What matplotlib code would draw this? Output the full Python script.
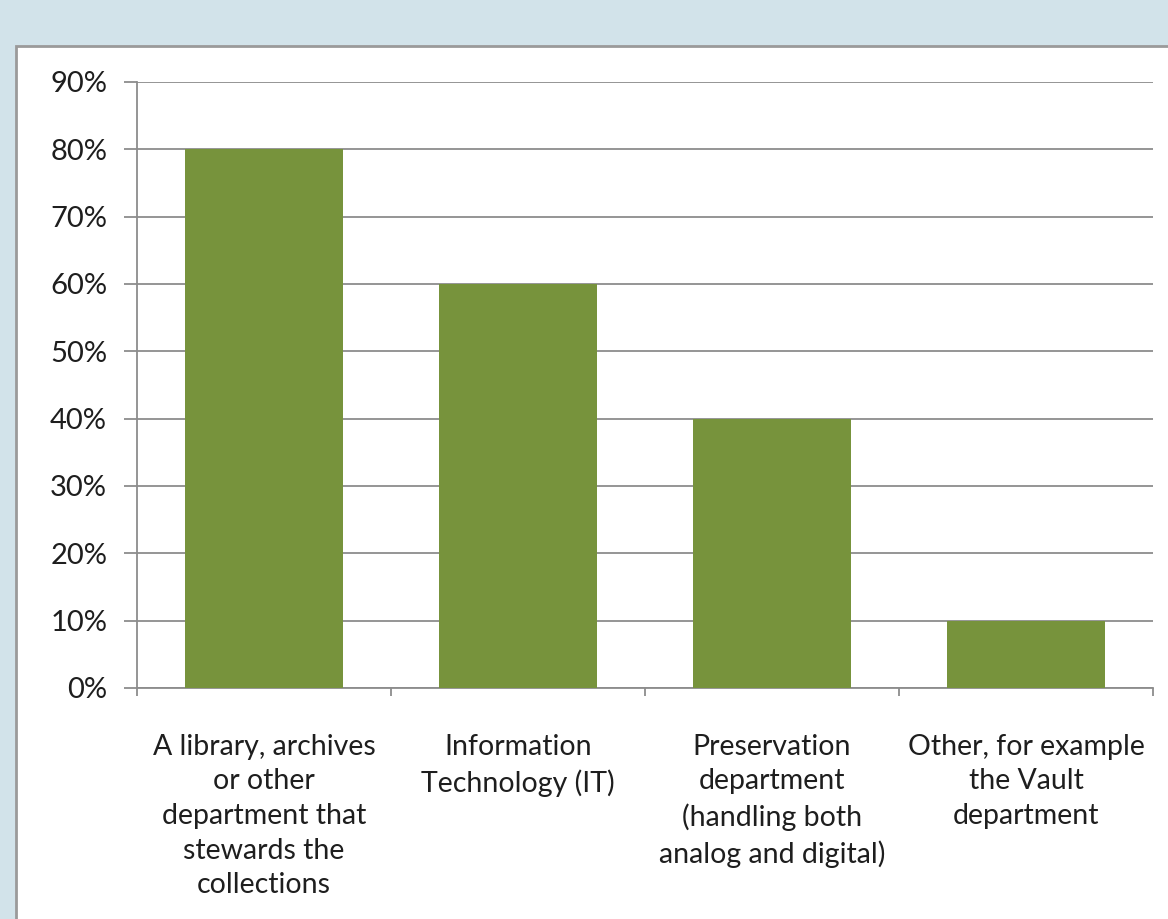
import matplotlib.pyplot as plt
from matplotlib.patches import Rectangle
from matplotlib.ticker import FixedLocator, PercentFormatter

# data
categories = [
    "A library, archives\nor other\ndepartment that\nstewards the\ncollections",
    "Information\nTechnology (IT)",
    "Preservation\ndepartment\n(handling both\nanalog and digital)",
    "Other, for example\nthe Vault\ndepartment",
]
values = [80, 60, 40, 10]
y_ticks = [0, 10, 20, 30, 40, 50, 60, 70, 80, 90]

plt.rcParams['font.family'] = ['Lato', 'DejaVu Sans']

fig = plt.figure(figsize=(11.68, 9.19), dpi=100)
fig.patch.set_facecolor('#d2e3ea')

# white panel behind the chart
panel = Rectangle((16 / 1168, -0.01), 1.0, 1 - 46 / 919 + 0.01, transform=fig.transFigure,
                  facecolor='white', edgecolor='#9a9a9a', linewidth=2, zorder=-10)
fig.patches.append(panel)

ax = fig.add_axes([137 / 1168, 1 - 688 / 919, (1153 - 137) / 1168, (688 - 82) / 919])
ax.set_zorder(5)
ax.set_facecolor('white')

x = list(range(len(values)))
ax.bar(x, values, width=0.625, color='#77933c', zorder=3)

ax.set_xlim(-0.5, len(values) - 0.5)
ax.set_ylim(0, 90)
ax.set_yticks(y_ticks)
ax.yaxis.set_major_formatter(PercentFormatter(decimals=0))
ax.yaxis.grid(True, color='#8c8c8c', linewidth=1.3, zorder=0)

ax.set_xticks(x)
ax.set_xticklabels(categories, fontsize=20.5, color='#1e1e1e', linespacing=1.41)
ax.tick_params(axis='x', length=0, pad=33)
ax.xaxis.set_minor_locator(FixedLocator([i - 0.5 for i in range(len(values) + 1)]))
ax.tick_params(axis='x', which='minor', length=6, width=1.3, color='#8c8c8c')
ax.tick_params(axis='y', length=9.5, width=1.3, color='#8c8c8c', labelsize=21,
               labelcolor='#1e1e1e', pad=12)

for s in ['top', 'right']:
    ax.spines[s].set_visible(False)
for s in ['left', 'bottom']:
    ax.spines[s].set_color('#8c8c8c')
    ax.spines[s].set_linewidth(1.3)

fig.savefig('out.png', dpi=100, facecolor=fig.get_facecolor())
